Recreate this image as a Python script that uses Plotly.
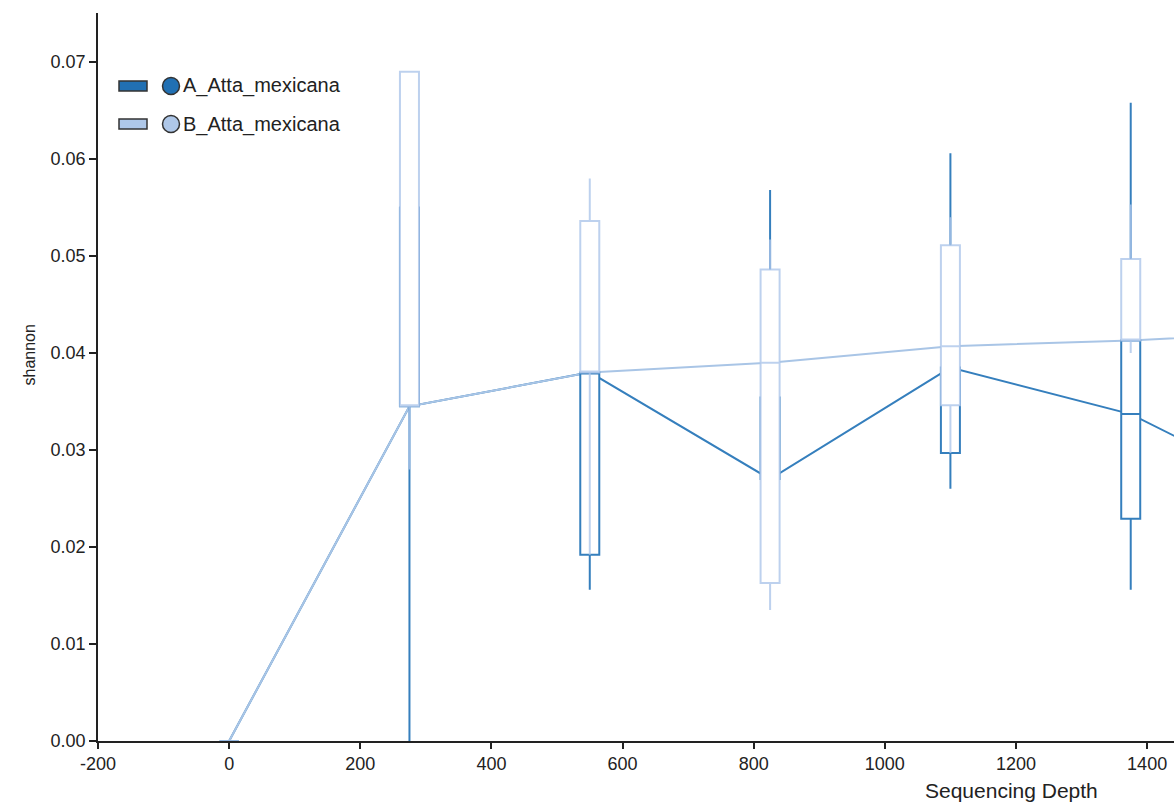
import plotly.graph_objects as go

# Rarefaction depths at which each group was summarised
box_depths = [0, 275, 550, 825, 1100, 1375]
line_depths = [0, 275, 550, 825, 1100, 1375, 1650]

# Group A: Atta mexicana, sample set A
a_q1 = [0.0, 0.0345, 0.0192, 0.0270, 0.0297, 0.0229]
a_median = [0.0, 0.0345, 0.0380, 0.0270, 0.0385, 0.0337]
a_q3 = [0.0, 0.0550, 0.0380, 0.0354, 0.0385, 0.0413]
a_low = [0.0, 0.0000, 0.0156, 0.0270, 0.0260, 0.0156]
a_high = [0.0, 0.0550, 0.0380, 0.0568, 0.0606, 0.0658]
a_line = [0.0, 0.0345, 0.0380, 0.0270, 0.0385, 0.0337, 0.0244]

# Group B: Atta mexicana, sample set B
b_q1 = [0.0, 0.0345, 0.0380, 0.0163, 0.0346, 0.0413]
b_median = [0.0, 0.0345, 0.0380, 0.0390, 0.0407, 0.0413]
b_q3 = [0.0, 0.0690, 0.0536, 0.0486, 0.0511, 0.0497]
b_low = [0.0, 0.0280, 0.0192, 0.0135, 0.0297, 0.0400]
b_high = [0.0, 0.0690, 0.0580, 0.0517, 0.0540, 0.0553]
b_line = [0.0, 0.0345, 0.0380, 0.0390, 0.0407, 0.0413, 0.0422]

group_names = ["A_Atta_mexicana", "B_Atta_mexicana"]
x_ticks = [-200, 0, 200, 400, 600, 800, 1000, 1200, 1400]
y_ticks = [0.0, 0.01, 0.02, 0.03, 0.04, 0.05, 0.06, 0.07]

A_LINE = "#357fbd"
B_LINE = "#a9c5e6"
A_LEG = "#2170b3"
B_LEG = "#aec7e8"
FONT = "Liberation Sans, Arial, sans-serif"

W, H = 1174, 803
ML, MR, MT, MB = 98, 0, 13, 62
PW, PH = W - ML - MR, H - MT - MB
X_RANGE = [-200, 1441]
Y_RANGE = [0, 0.07505]


def px_x(p):
    return (p - ML) / PW


def px_y(p):
    return (H - MB - p) / PH


fig = go.Figure()

# median trajectories (drawn beneath the boxes)
fig.add_trace(go.Scatter(x=line_depths, y=a_line, mode="lines",
                         line=dict(color=A_LINE, width=2),
                         name=group_names[0], showlegend=False,
                         xaxis="x", yaxis="y"))
fig.add_trace(go.Scatter(x=line_depths, y=b_line, mode="lines",
                         line=dict(color=B_LINE, width=2),
                         name=group_names[1], showlegend=False,
                         xaxis="x", yaxis="y"))

# box summaries per depth, on an overlaid axis pair so they sit above the lines
fig.add_trace(go.Box(x=box_depths, q1=a_q1, median=a_median, q3=a_q3,
                     lowerfence=a_low, upperfence=a_high,
                     width=29, whiskerwidth=0, boxpoints=False,
                     fillcolor="white", line=dict(color=A_LINE, width=2),
                     name=group_names[0], showlegend=False,
                     xaxis="x2", yaxis="y2"))
fig.add_trace(go.Box(x=box_depths, q1=b_q1, median=b_median, q3=b_q3,
                     lowerfence=b_low, upperfence=b_high,
                     width=29, whiskerwidth=0, boxpoints=False,
                     fillcolor="white", line=dict(color="rgba(172,198,234,0.8)", width=2),
                     name=group_names[1], showlegend=False,
                     xaxis="x2", yaxis="y2"))

axis_font = dict(family=FONT, size=18, color="#222")

fig.update_layout(
    width=W, height=H,
    margin=dict(l=ML, r=MR, t=MT, b=MB, pad=0),
    paper_bgcolor="white", plot_bgcolor="white",
    boxmode="overlay",
    showlegend=False,
    font=dict(family=FONT, color="#222"),
    xaxis=dict(range=X_RANGE, tickvals=x_ticks, ticktext=[str(v) for v in x_ticks],
               ticks="outside", ticklen=6, tickwidth=1.5, tickcolor="#222",
               showline=True, linecolor="#222", linewidth=1.5,
               showgrid=False, zeroline=False, tickfont=axis_font),
    yaxis=dict(range=Y_RANGE, tickvals=y_ticks, tickformat=".2f",
               ticks="outside", ticklen=7, tickwidth=1.5, tickcolor="#222",
               showline=True, linecolor="#222", linewidth=1.5,
               showgrid=False, zeroline=False, tickfont=axis_font),
    xaxis2=dict(range=X_RANGE, overlaying="x", anchor="y2", visible=False),
    yaxis2=dict(range=Y_RANGE, overlaying="y", anchor="x2", visible=False),
)

# axis titles
fig.add_annotation(text="shannon", x=px_x(18), y=px_y(355), xref="paper", yref="paper",
                   textangle=-90, showarrow=False, font=dict(family=FONT, size=16, color="#222"))
fig.add_annotation(text="Sequencing Depth", x=px_x(1100), y=px_y(790), xref="paper", yref="paper",
                   xanchor="right", yanchor="middle", showarrow=False,
                   font=dict(family=FONT, size=21, color="#222"))

# legend: swatch bar, circle marker and label for each group
for i, (name, fill) in enumerate(zip(group_names, [A_LEG, B_LEG])):
    cy = 86 + i * 38
    fig.add_shape(type="rect", xref="paper", yref="paper",
                  x0=px_x(119), x1=px_x(147), y0=px_y(cy - 5), y1=px_y(cy + 5),
                  fillcolor=fill, line=dict(color="#333", width=1.5))
    fig.add_shape(type="circle", xref="paper", yref="paper",
                  x0=px_x(171 - 8.5), x1=px_x(171 + 8.5), y0=px_y(cy - 8.5), y1=px_y(cy + 8.5),
                  fillcolor=fill, line=dict(color="#333", width=1.5))
    fig.add_annotation(text=name, x=px_x(181), y=px_y(cy), xref="paper", yref="paper",
                       xanchor="left", yanchor="middle", showarrow=False,
                       font=dict(family=FONT, size=20, color="#222"))

fig.write_html("out.html")
